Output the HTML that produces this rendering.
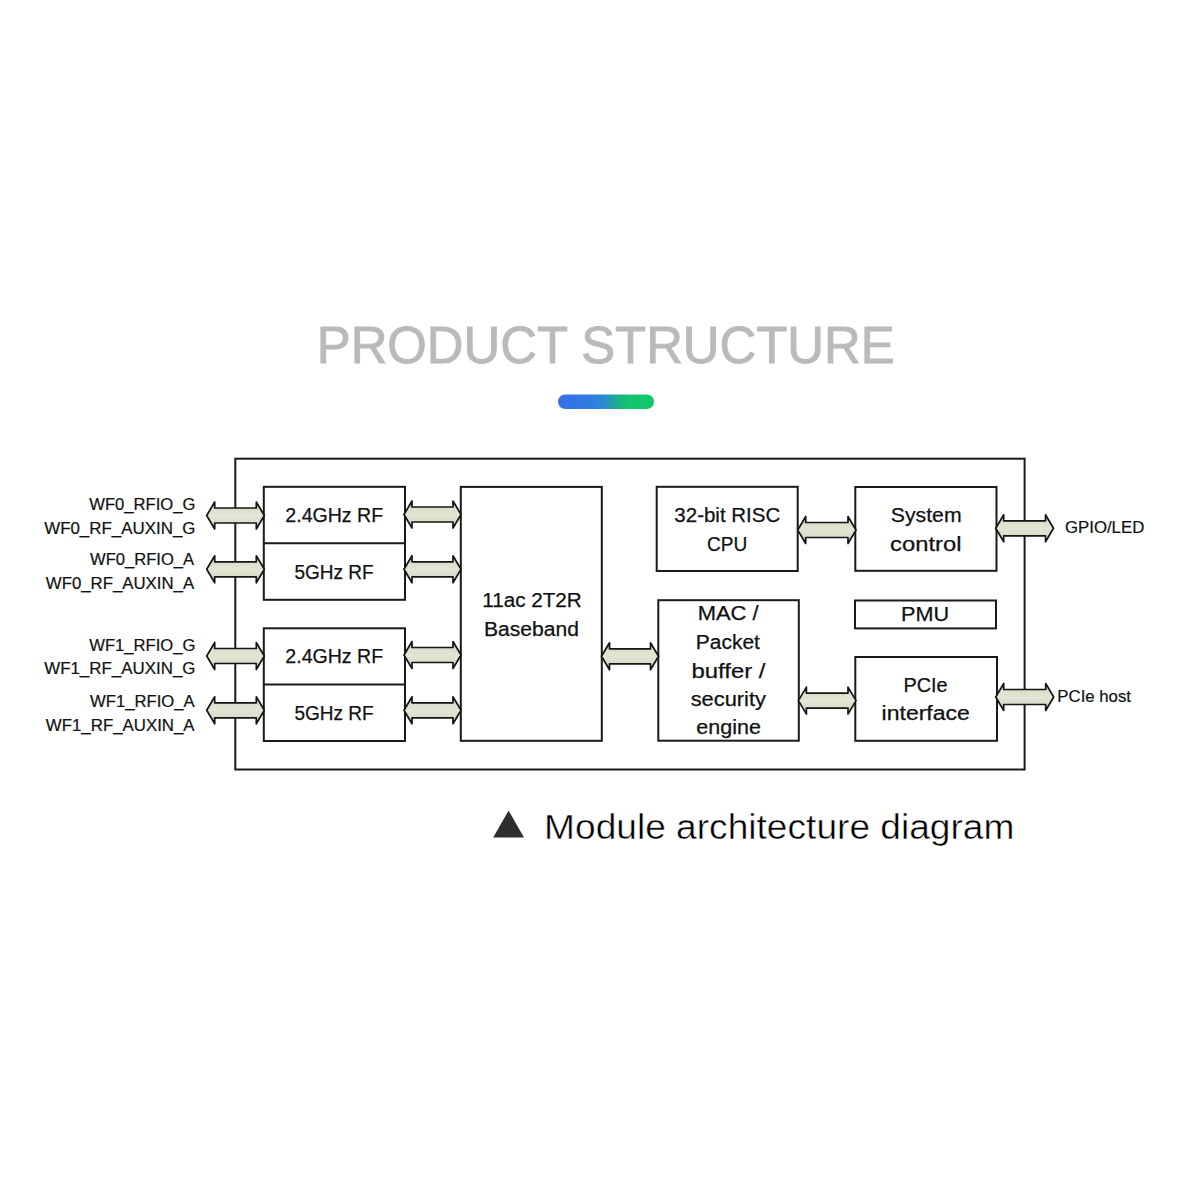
<!DOCTYPE html>
<html><head><meta charset="utf-8"><style>
html,body{margin:0;padding:0;background:#fff;}
body{width:1200px;height:1200px;overflow:hidden;}
svg{display:block;font-family:"Liberation Sans",sans-serif;}
</style></head><body>
<svg width="1200" height="1200" viewBox="0 0 1200 1200">
<defs><linearGradient id="g" x1="0" x2="1" y1="0" y2="0"><stop offset="0" stop-color="#3670e6"/><stop offset="0.3" stop-color="#3278e4"/><stop offset="0.5" stop-color="#2790cc"/><stop offset="0.62" stop-color="#1bb08a"/><stop offset="0.75" stop-color="#12c46c"/><stop offset="1" stop-color="#10c96a"/></linearGradient><linearGradient id="af" x1="0" x2="0" y1="0" y2="1"><stop offset="0" stop-color="#d2d5bf"/><stop offset="0.5" stop-color="#e3e6d4"/><stop offset="1" stop-color="#d0d3bc"/></linearGradient></defs>
<rect x="558" y="394.5" width="96" height="14.5" rx="7.25" fill="url(#g)"/>
<rect x="235.3" y="458.7" width="789.3" height="310.8" fill="none" stroke="#1a1a1a" stroke-width="2"/>
<rect x="263.8" y="486.8" width="141.2" height="113" fill="none" stroke="#1a1a1a" stroke-width="2"/>
<rect x="263.8" y="628.3" width="141.2" height="112.7" fill="none" stroke="#1a1a1a" stroke-width="2"/>
<rect x="460.8" y="486.9" width="141" height="253.9" fill="none" stroke="#1a1a1a" stroke-width="2"/>
<rect x="656.7" y="486.8" width="141" height="84.2" fill="none" stroke="#1a1a1a" stroke-width="2"/>
<rect x="658.3" y="600.2" width="140.5" height="140.5" fill="none" stroke="#1a1a1a" stroke-width="2"/>
<rect x="855.3" y="487" width="141.2" height="83.8" fill="none" stroke="#1a1a1a" stroke-width="2"/>
<rect x="855" y="600.5" width="141" height="27.9" fill="none" stroke="#1a1a1a" stroke-width="2"/>
<rect x="855.3" y="657" width="141.7" height="83.8" fill="none" stroke="#1a1a1a" stroke-width="2"/>
<line x1="263.8" x2="405" y1="543.3" y2="543.3" stroke="#1a1a1a" stroke-width="2"/>
<line x1="263.8" x2="405" y1="684.5" y2="684.5" stroke="#1a1a1a" stroke-width="2"/>
<polygon points="206.7,515.5 214.7,502 214.7,508 256.3,508 256.3,502 264.3,515.5 256.3,529 256.3,523 214.7,523 214.7,529" fill="url(#af)" stroke="#151515" stroke-width="1.7" stroke-linejoin="round"/>
<polygon points="206.7,569.3 214.7,555.8 214.7,561.8 256.3,561.8 256.3,555.8 264.3,569.3 256.3,582.8 256.3,576.8 214.7,576.8 214.7,582.8" fill="url(#af)" stroke="#151515" stroke-width="1.7" stroke-linejoin="round"/>
<polygon points="206.7,656 214.7,642.5 214.7,648.5 256.3,648.5 256.3,642.5 264.3,656 256.3,669.5 256.3,663.5 214.7,663.5 214.7,669.5" fill="url(#af)" stroke="#151515" stroke-width="1.7" stroke-linejoin="round"/>
<polygon points="206.7,710.3 214.7,696.8 214.7,702.8 256.3,702.8 256.3,696.8 264.3,710.3 256.3,723.8 256.3,717.8 214.7,717.8 214.7,723.8" fill="url(#af)" stroke="#151515" stroke-width="1.7" stroke-linejoin="round"/>
<polygon points="404,514.5 412,501 412,507 453,507 453,501 461,514.5 453,528 453,522 412,522 412,528" fill="url(#af)" stroke="#151515" stroke-width="1.7" stroke-linejoin="round"/>
<polygon points="404,569.3 412,555.8 412,561.8 453,561.8 453,555.8 461,569.3 453,582.8 453,576.8 412,576.8 412,582.8" fill="url(#af)" stroke="#151515" stroke-width="1.7" stroke-linejoin="round"/>
<polygon points="404,655 412,641.5 412,647.5 453,647.5 453,641.5 461,655 453,668.5 453,662.5 412,662.5 412,668.5" fill="url(#af)" stroke="#151515" stroke-width="1.7" stroke-linejoin="round"/>
<polygon points="404,710.3 412,696.8 412,702.8 453,702.8 453,696.8 461,710.3 453,723.8 453,717.8 412,717.8 412,723.8" fill="url(#af)" stroke="#151515" stroke-width="1.7" stroke-linejoin="round"/>
<polygon points="601.5,656.3 609.5,642.8 609.5,648.8 650.5,648.8 650.5,642.8 658.5,656.3 650.5,669.8 650.5,663.8 609.5,663.8 609.5,669.8" fill="url(#af)" stroke="#151515" stroke-width="1.7" stroke-linejoin="round"/>
<polygon points="797.7,530 805.7,516.5 805.7,522.5 848,522.5 848,516.5 856,530 848,543.5 848,537.5 805.7,537.5 805.7,543.5" fill="url(#af)" stroke="#151515" stroke-width="1.7" stroke-linejoin="round"/>
<polygon points="798.4,700.6 806.4,687.1 806.4,693.1 848,693.1 848,687.1 856,700.6 848,714.1 848,708.1 806.4,708.1 806.4,714.1" fill="url(#af)" stroke="#151515" stroke-width="1.7" stroke-linejoin="round"/>
<polygon points="995.7,528.3 1003.7,514.8 1003.7,520.8 1045.5,520.8 1045.5,514.8 1053.5,528.3 1045.5,541.8 1045.5,535.8 1003.7,535.8 1003.7,541.8" fill="url(#af)" stroke="#151515" stroke-width="1.7" stroke-linejoin="round"/>
<polygon points="995.7,697 1003.7,683.5 1003.7,689.5 1045.7,689.5 1045.7,683.5 1053.7,697 1045.7,710.5 1045.7,704.5 1003.7,704.5 1003.7,710.5" fill="url(#af)" stroke="#151515" stroke-width="1.7" stroke-linejoin="round"/>
<polygon points="493.2,837.5 524,837.5 508.6,810.6" fill="#2e2e2e"/>
<text x="316.74" y="363" font-size="51.2" fill="#bababa" stroke="#bababa" stroke-width="0.9" textLength="577.9" lengthAdjust="spacingAndGlyphs">PRODUCT STRUCTURE</text>
<text x="544.1" y="839" font-size="35.13" fill="#000" stroke="#fff" stroke-width="0.45" textLength="470.32" lengthAdjust="spacingAndGlyphs">Module architecture diagram</text>
<text x="285.33" y="521.9" font-size="20.76" fill="#111" stroke="#111" stroke-width="0.25" textLength="97.81" lengthAdjust="spacingAndGlyphs">2.4GHz RF</text>
<text x="294.41" y="578.75" font-size="20.76" fill="#111" stroke="#111" stroke-width="0.25" textLength="79.32" lengthAdjust="spacingAndGlyphs">5GHz RF</text>
<text x="285.33" y="663.4" font-size="20.76" fill="#111" stroke="#111" stroke-width="0.25" textLength="97.81" lengthAdjust="spacingAndGlyphs">2.4GHz RF</text>
<text x="294.41" y="720.25" font-size="20.76" fill="#111" stroke="#111" stroke-width="0.25" textLength="79.32" lengthAdjust="spacingAndGlyphs">5GHz RF</text>
<text x="482.21" y="606.5" font-size="20.76" fill="#111" stroke="#111" stroke-width="0.25" textLength="99.51" lengthAdjust="spacingAndGlyphs">11ac 2T2R</text>
<text x="484.05" y="635.8" font-size="20.76" fill="#111" stroke="#111" stroke-width="0.25" textLength="94.93" lengthAdjust="spacingAndGlyphs">Baseband</text>
<text x="674.36" y="521.8" font-size="20.76" fill="#111" stroke="#111" stroke-width="0.25" textLength="105.85" lengthAdjust="spacingAndGlyphs">32-bit RISC</text>
<text x="706.91" y="550.5" font-size="20.76" fill="#111" stroke="#111" stroke-width="0.25" textLength="40.25" lengthAdjust="spacingAndGlyphs">CPU</text>
<text x="697.68" y="620" font-size="20.76" fill="#111" stroke="#111" stroke-width="0.25" textLength="60.99" lengthAdjust="spacingAndGlyphs">MAC /</text>
<text x="695.86" y="648.75" font-size="20.76" fill="#111" stroke="#111" stroke-width="0.25" textLength="64.07" lengthAdjust="spacingAndGlyphs">Packet</text>
<text x="691.51" y="677.5" font-size="20.76" fill="#111" stroke="#111" stroke-width="0.25" textLength="74.01" lengthAdjust="spacingAndGlyphs">buffer /</text>
<text x="690.66" y="706" font-size="20.76" fill="#111" stroke="#111" stroke-width="0.25" textLength="75.34" lengthAdjust="spacingAndGlyphs">security</text>
<text x="696.23" y="734.4" font-size="20.76" fill="#111" stroke="#111" stroke-width="0.25" textLength="64.65" lengthAdjust="spacingAndGlyphs">engine</text>
<text x="890.84" y="521.6" font-size="20.76" fill="#111" stroke="#111" stroke-width="0.25" textLength="70.76" lengthAdjust="spacingAndGlyphs">System</text>
<text x="890.06" y="550.8" font-size="20.76" fill="#111" stroke="#111" stroke-width="0.25" textLength="71.41" lengthAdjust="spacingAndGlyphs">control</text>
<text x="901.11" y="621.1" font-size="20.76" fill="#111" stroke="#111" stroke-width="0.25" textLength="48.12" lengthAdjust="spacingAndGlyphs">PMU</text>
<text x="903.44" y="691.7" font-size="20.76" fill="#111" stroke="#111" stroke-width="0.25" textLength="44.26" lengthAdjust="spacingAndGlyphs">PCIe</text>
<text x="881.56" y="720.2" font-size="20.76" fill="#111" stroke="#111" stroke-width="0.25" textLength="88.37" lengthAdjust="spacingAndGlyphs">interface</text>
<text x="89.2" y="510" font-size="15.64" fill="#111" stroke="#111" stroke-width="0.2" textLength="106.24" lengthAdjust="spacingAndGlyphs">WF0_RFIO_G</text>
<text x="44.2" y="533.7" font-size="15.64" fill="#111" stroke="#111" stroke-width="0.2" textLength="151.26" lengthAdjust="spacingAndGlyphs">WF0_RF_AUXIN_G</text>
<text x="90" y="565" font-size="15.64" fill="#111" stroke="#111" stroke-width="0.2" textLength="104.12" lengthAdjust="spacingAndGlyphs">WF0_RFIO_A</text>
<text x="45.8" y="589.2" font-size="15.64" fill="#111" stroke="#111" stroke-width="0.2" textLength="148.32" lengthAdjust="spacingAndGlyphs">WF0_RF_AUXIN_A</text>
<text x="89.2" y="650.8" font-size="15.64" fill="#111" stroke="#111" stroke-width="0.2" textLength="106.24" lengthAdjust="spacingAndGlyphs">WF1_RFIO_G</text>
<text x="44.2" y="674.2" font-size="15.64" fill="#111" stroke="#111" stroke-width="0.2" textLength="151.26" lengthAdjust="spacingAndGlyphs">WF1_RF_AUXIN_G</text>
<text x="90" y="706.7" font-size="15.64" fill="#111" stroke="#111" stroke-width="0.2" textLength="104.62" lengthAdjust="spacingAndGlyphs">WF1_RFIO_A</text>
<text x="45.8" y="730.8" font-size="15.64" fill="#111" stroke="#111" stroke-width="0.2" textLength="148.82" lengthAdjust="spacingAndGlyphs">WF1_RF_AUXIN_A</text>
<text x="1065.01" y="533.2" font-size="15.64" fill="#111" stroke="#111" stroke-width="0.2" textLength="79.27" lengthAdjust="spacingAndGlyphs">GPIO/LED</text>
<text x="1057.39" y="701.8" font-size="15.64" fill="#111" stroke="#111" stroke-width="0.2" textLength="73.55" lengthAdjust="spacingAndGlyphs">PCIe host</text>
</svg>
</body></html>
